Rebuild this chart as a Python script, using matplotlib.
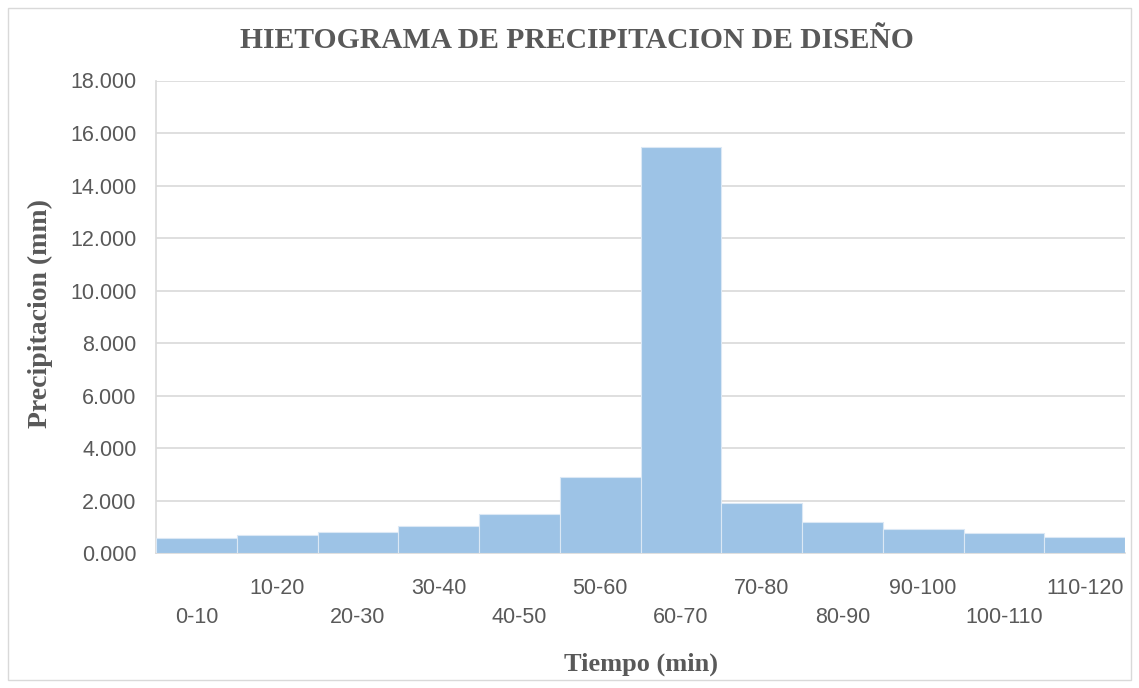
import matplotlib.pyplot as plt
from matplotlib.patches import Rectangle
from matplotlib.ticker import FuncFormatter

# intervalos de tiempo y precipitacion (mm)
intervalos = ["0-10", "10-20", "20-30", "30-40", "40-50", "50-60",
              "60-70", "70-80", "80-90", "90-100", "100-110", "110-120"]
precipitacion = [0.58, 0.69, 0.80, 1.03, 1.49, 2.91,
                 15.47, 1.93, 1.20, 0.91, 0.76, 0.61]

gris = "#595959"
azul = "#9dc3e6"

fig = plt.figure(figsize=(11.39, 6.88), dpi=100)
ax = fig.add_axes([156 / 1139, 1 - 553.3 / 688, 969 / 1139, 472.8 / 688])

x = list(range(len(intervalos)))
ax.bar(x, precipitacion, width=1.0, color=azul, edgecolor="#dbe8f5",
       linewidth=0.8, zorder=3)

ax.set_xlim(-0.5, len(intervalos) - 0.5)
ax.set_ylim(0, 18)
ax.set_yticks([i * 2 for i in range(10)])
ax.yaxis.set_major_formatter(FuncFormatter(lambda v, p: "{:.3f}".format(v)))
ax.grid(axis="y", color="#d9d9d9", linewidth=1.2, zorder=0)

# etiquetas alternadas en dos filas
ax.set_xticks(x[0::2])
ax.set_xticklabels(intervalos[0::2])
ax.set_xticks(x[1::2], minor=True)
ax.set_xticklabels(intervalos[1::2], minor=True)
ax.tick_params(axis="x", which="major", length=0, pad=39, labelsize=15.5, labelcolor=gris)
ax.tick_params(axis="x", which="minor", length=0, pad=18, labelsize=15.5, labelcolor=gris)
ax.tick_params(axis="y", length=0, pad=14, labelsize=15.5, labelcolor=gris)
for lbl in ax.get_xticklabels(which="both") + ax.get_yticklabels():
    lbl.set_fontfamily("Liberation Sans")

for s in ["top", "right"]:
    ax.spines[s].set_visible(False)
ax.spines["left"].set_color("#d9d9d9")
ax.spines["left"].set_linewidth(1.2)
ax.spines["bottom"].set_color("#d9d9d9")
ax.spines["bottom"].set_linewidth(1.2)

fig.text(577 / 1139, 1 - 40 / 688, "HIETOGRAMA DE PRECIPITACION DE DISEÑO",
         ha="center", va="center", fontsize=21.3, fontweight="bold",
         family="Liberation Serif", color=gris)
fig.text(40 / 1139, 1 - 314 / 688, "Precipitacion (mm)", rotation=90,
         ha="center", va="center", fontsize=20, fontweight="bold",
         family="Liberation Serif", color=gris)
fig.text(641 / 1139, 1 - 664 / 688, "Tiempo (min)",
         ha="center", va="center", fontsize=19, fontweight="bold",
         family="Liberation Serif", color=gris)

# borde del grafico
fig.patches.append(Rectangle((8 / 1139, 8 / 688), 1 - 16 / 1139, 1 - 16 / 688,
                             transform=fig.transFigure, fill=False,
                             edgecolor="#d9d9d9", linewidth=1))

fig.savefig("out.png", dpi=100)
